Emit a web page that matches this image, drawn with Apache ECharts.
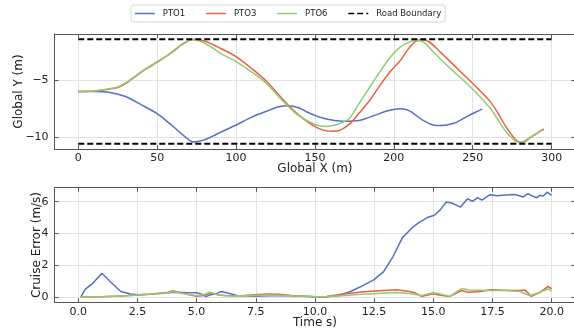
<!DOCTYPE html>
<html><head><meta charset="utf-8">
<script src="https://cdn.jsdelivr.net/npm/echarts@6/dist/echarts.min.js"></script>
<style>html,body{margin:0;padding:0;background:#fff}#c{width:574px;height:328px}</style>
</head><body><div id="c"></div>
<script>
// ---- Top panel: trajectories (Global X vs Global Y) ----
const pto1X = [0,10,20,30,40,50,56,62,67,73,80,85,90,100,110,120,127,133,140,145,150,158,168,178,188,196,204,210,218,225,230,238,245,252,256];
const pto1Y = [-6.0,-6.0,-6.08,-6.44,-7.17,-7.95,-8.6,-9.3,-9.9,-10.45,-10.25,-9.95,-9.6,-8.95,-8.25,-7.7,-7.35,-7.25,-7.45,-7.8,-8.1,-8.45,-8.62,-8.55,-8.1,-7.7,-7.52,-7.7,-8.5,-8.95,-9.0,-8.8,-8.3,-7.8,-7.55];
const pto3X = [0,10,20,25,30,35,40,45,50,55,60,65,70,73,80,90,100,111,120,128,133,140,150,156,161,166,172,178,185,191,198,204,210,216,222,230,240,250,261,266,272,280,283,286,290,295];
const pto3Y = [-6,-5.95,-5.78,-5.65,-5.3,-4.8,-4.3,-3.85,-3.42,-2.98,-2.5,-1.95,-1.52,-1.42,-1.55,-2.19,-2.93,-4.1,-5.2,-6.44,-7.2,-8.1,-9.1,-9.42,-9.5,-9.4,-8.85,-7.9,-6.73,-5.5,-4.2,-3.3,-2.1,-1.47,-1.6,-2.6,-3.95,-5.3,-6.87,-7.9,-9.3,-10.47,-10.4,-10.1,-9.75,-9.3];
const pto6X = [0,10,20,25,30,35,40,45,50,55,60,65,70,72,78,85,90,100,111,120,128,133,140,150,157,163,168,172,178,185,192,198,204,209,213,218,225,230,240,250,261,266,272,279,282,286,290,294];
const pto6Y = [-6,-5.95,-5.75,-5.6,-5.25,-4.75,-4.25,-3.8,-3.37,-2.95,-2.45,-1.9,-1.48,-1.42,-1.6,-2.15,-2.63,-3.37,-4.39,-5.4,-6.6,-7.3,-8.15,-8.9,-9.07,-8.95,-8.7,-8.35,-7.05,-5.56,-4.1,-2.95,-2.1,-1.7,-1.52,-1.6,-2.5,-3.2,-4.5,-5.8,-7.46,-8.5,-9.7,-10.47,-10.4,-10.05,-9.7,-9.36];
const boundaryX = [0, 300];
const boundaryUpper = -1.4;
const boundaryLower = -10.6;
const topXTicks = [0,50,100,150,200,250,300];
const topYTicks = [-10,-5];

// ---- Bottom panel: cruise error vs time ----
const errT1 = [0.1,0.3,0.6,1.0,1.4,1.8,2.2,2.5,3.0,3.5,4.0,4.5,5.0,5.2,5.4,5.6,5.8,6.05,6.3,6.7,7.0,7.5,8.0,8.5,9.0,9.5,10.0,10.5,11.0,11.5,12.0,12.5,12.9,13.3,13.7,14.1,14.4,14.75,15.05,15.3,15.55,15.8,16.15,16.45,16.65,16.87,17.05,17.4,17.7,18.05,18.45,18.8,19.0,19.2,19.37,19.5,19.65,19.8,20.0];
const err1 = [0,0.5,0.85,1.5,0.9,0.35,0.19,0.15,0.17,0.22,0.3,0.28,0.27,0.2,0.03,0.15,0.2,0.35,0.25,0.1,0.08,0.05,0.08,0.1,0.08,0.05,0.02,0.02,0.08,0.35,0.7,1.1,1.6,2.55,3.75,4.35,4.7,5.0,5.15,5.5,5.98,5.9,5.66,6.19,6.02,6.25,6.1,6.44,6.37,6.42,6.45,6.3,6.5,6.35,6.25,6.4,6.35,6.6,6.4];
const errT3 = [0.1,1,2,3,3.8,4.0,4.3,4.7,5.0,5.3,5.6,5.9,6.2,6.6,7.0,7.5,8.0,8.5,9.0,9.5,10.0,10.5,11.2,12.2,13.45,14.0,14.25,14.5,15.0,15.3,15.7,16.2,16.45,17.0,17.4,17.8,18.3,18.66,18.87,19.15,19.5,19.86,20.0];
const err3 = [0,0.02,0.08,0.18,0.3,0.4,0.28,0.15,0.05,0.1,0.25,0.15,0.1,0.08,0.1,0.15,0.2,0.18,0.1,0.05,0.02,0.03,0.19,0.35,0.46,0.35,0.25,0.04,0.2,0.12,0.04,0.41,0.3,0.35,0.46,0.44,0.42,0.42,0.45,0.04,0.3,0.67,0.51];
const errT6 = [0.1,1,2,3,3.8,4.0,4.3,4.7,5.0,5.3,5.55,5.9,6.2,6.6,7.0,7.5,8.0,8.5,9.0,9.5,10.0,10.5,11.2,12.2,13.45,14.0,14.5,15.0,15.3,15.7,16.2,16.5,17.4,18.0,18.66,19.08,19.5,19.86,20.0];
const err6 = [0,0.02,0.08,0.18,0.28,0.35,0.25,0.15,0.1,0.15,0.3,0.15,0.08,0.06,0.08,0.1,0.12,0.12,0.08,0.05,0.02,0.03,0.08,0.2,0.28,0.23,0.1,0.29,0.2,0.04,0.54,0.45,0.42,0.42,0.35,0.08,0.3,0.51,0.35];
const botXTicks = [0,2.5,5,7.5,10,12.5,15,17.5,20];
const botYTicks = [0,2,4,6];

const names = ['PTO1','PTO3','PTO6','Road Boundary'];
const colors = {PTO1:'#5470c6', PTO3:'#e9603e', PTO6:'#91cc75'};
const FONT = 'DejaVu Sans';

const zip = (a,b) => a.map((v,i)=>[v,b[i]]);
const frame = {show:true, onZero:false, lineStyle:{color:'#555', width:1}};
const grid0 = {left:54.6, top:34, width:520.7, height:115, outerBoundsMode:'none', containLabel:false};
const grid1 = {left:54.6, top:187.7, width:520.7, height:114.6, outerBoundsMode:'none', containLabel:false};

function mainX(gi, min, max, ticks, name, fmt, gap){
  return {type:'value', gridIndex:gi, position:'bottom', min, max,
    name, nameLocation:'middle', nameGap:gap, nameMoveOverlap:false,
    nameTextStyle:{fontFamily:FONT, fontSize:12, color:'#222', verticalAlign:'top'},
    axisLine:frame,
    axisTick:{show:true, inside:true, length:4, customValues:ticks, lineStyle:{color:'#555'}},
    axisLabel:{customValues:ticks, fontFamily:FONT, fontSize:11, color:'#222', margin:4, formatter:fmt},
    splitLine:{show:true, lineStyle:{color:'#e3e3e3', width:1}}};
}
function mirrorX(gi, min, max, ticks){
  return {type:'value', gridIndex:gi, position:'top', min, max,
    axisLine:frame, axisTick:{show:true, inside:true, length:4, customValues:ticks, lineStyle:{color:'#555'}},
    axisLabel:{show:false}, splitLine:{show:false}};
}
function mainY(gi, min, max, ticks, name, gap){
  return {type:'value', gridIndex:gi, position:'left', min, max,
    name, nameLocation:'middle', nameGap:gap, nameMoveOverlap:false,
    nameTextStyle:{fontFamily:FONT, fontSize:12, color:'#222'},
    axisLine:frame,
    axisTick:{show:true, inside:true, length:4, customValues:ticks, lineStyle:{color:'#555'}},
    axisLabel:{customValues:ticks, fontFamily:FONT, fontSize:11, color:'#222', margin:6,
      formatter:v=>String(v).replace('-','\u2212')},
    splitLine:{show:true, lineStyle:{color:'#e3e3e3', width:1}}};
}
function mirrorY(gi, min, max, ticks){
  return {type:'value', gridIndex:gi, position:'right', min, max,
    axisLine:frame, axisTick:{show:true, inside:true, length:4, customValues:ticks, lineStyle:{color:'#555'}},
    axisLabel:{show:false}, splitLine:{show:false}};
}
function line(name, data, xi, yi, smooth){
  return {name, type:'line', xAxisIndex:xi, yAxisIndex:yi, data, symbol:'none', smooth:smooth||false,
    color:colors[name], lineStyle:{color:colors[name], width:1.5}};
}
function boundary(y){
  return {name:'Road Boundary', type:'line', xAxisIndex:0, yAxisIndex:0,
    data:boundaryX.map(x=>[x,y]), symbol:'none', color:'#000',
    lineStyle:{color:'#000', width:1.8, type:[6,3]}};
}

const chart = echarts.init(document.getElementById('c'), null, {renderer:'canvas'});
chart.setOption({
  animation:false,
  backgroundColor:'#fff',
  textStyle:{fontFamily:FONT},
  legend:{data:names, left:131, top:5, orient:'horizontal',
    itemWidth:20, itemHeight:10, itemGap:20,
    itemStyle:{opacity:0},
    lineStyle:{width:1.5},
    textStyle:{fontFamily:FONT, fontSize:8.5, color:'#222', padding:[0,0,0,3]},
    borderColor:'#d6d6d6', borderWidth:1, borderRadius:3, padding:[4,4,4,3]},
  grid:[grid0, grid1],
  xAxis:[
    mainX(0,-15,315,topXTicks,'Global X (m)', v=>String(v), 14),
    mirrorX(0,-15,315,topXTicks),
    mainX(1,-1,21,botXTicks,'Time s)', v=>v.toFixed(1), 15),
    mirrorX(1,-1,21,botXTicks)
  ],
  yAxis:[
    mainY(0,-11.06,-0.94,topYTicks,'Global Y (m)',30),
    mirrorY(0,-11.06,-0.94,topYTicks),
    mainY(1,-0.33,6.88,botYTicks,'Cruise Error (m/s)',12),
    mirrorY(1,-0.33,6.88,botYTicks)
  ],
  series:[
    line('PTO1', zip(pto1X,pto1Y), 0, 0, 0.3),
    line('PTO3', zip(pto3X,pto3Y), 0, 0, 0.3),
    line('PTO6', zip(pto6X,pto6Y), 0, 0, 0.3),
    boundary(boundaryUpper),
    boundary(boundaryLower),
    line('PTO1', zip(errT1,err1), 2, 2),
    line('PTO3', zip(errT3,err3), 2, 2),
    line('PTO6', zip(errT6,err6), 2, 2)
  ]
});
</script></body></html>
